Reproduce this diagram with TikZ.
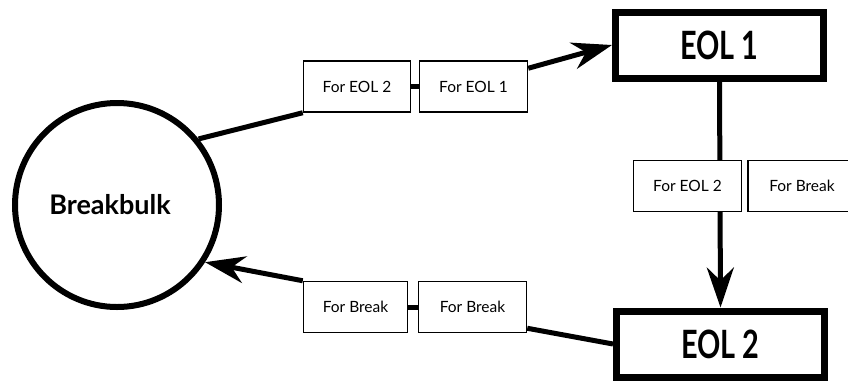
\documentclass[tikz,border=0pt]{standalone}
\usepackage{fontspec}
\setmainfont{Lato}
\newfontfamily\eolfont[FakeStretch=0.74]{Lato}
\usetikzlibrary{arrows.meta,calc,backgrounds}

\begin{document}
\begin{tikzpicture}[x=1pt,y=-1pt,
  tag/.style={draw,line width=1.5pt,fill=white,minimum height=51pt,inner sep=0pt,
    font=\fontsize{15.5}{15.5}\selectfont},
  depot/.style={draw,line width=7pt,fill=white,minimum width=208pt,minimum height=66pt,
    inner sep=0pt,font=\eolfont\fontsize{39}{39}\selectfont\bfseries},
  hub/.style={draw,circle,line width=6pt,fill=white,minimum size=204pt,inner sep=0pt,
    font=\fontsize{27}{27}\selectfont\bfseries},
  flow/.style={line width=5pt},
  flowarrow/.style={-{Stealth[length=40pt,width=27pt,inset=13pt]}}]
  \useasboundingbox (0,0) rectangle (848,381);
  \clip (0,0) rectangle (848,381);
\node[hub] (bb) at (117,205) {\hspace*{-14pt}Breakbulk};
\node[depot] (e1) at (719.5,45) {EOL 1};
\node[depot] (e2) at (720.5,344) {EOL 2};
\node[tag,minimum width=107pt] (ta) at (357,86.5) {For EOL 2};
\node[tag,minimum width=108pt] (tb) at (473.5,86.5) {For EOL 1};
\node[tag,minimum width=108pt] (ma) at (687.5,186) {For EOL 2};
\node[tag,minimum width=108pt] (mb) at (802,186) {For Break};
\node[tag,minimum width=104pt] (bl) at (355.5,307) {For Break};
\node[tag,minimum width=108pt] (br) at (472.5,307) {For Break};
\begin{scope}[on background layer]
\draw[flow] (bb.39) -- (ta.south west);
\draw[flow] (ta.east) -- (tb.west);
\draw[flow,flowarrow] ($(tb.north east)+(0,8)$) -- (e1.west);
\draw[flow,flowarrow] (e1.south) -- (e2.north);
\draw[flow] ($(br.south east)+(0,-5)$) -- (e2.west);
\draw[flow] (br.west) -- (bl.east);
\draw[flow,flowarrow] (bl.north west) -- (bb.-33);
\end{scope}
\end{tikzpicture}
\end{document}
